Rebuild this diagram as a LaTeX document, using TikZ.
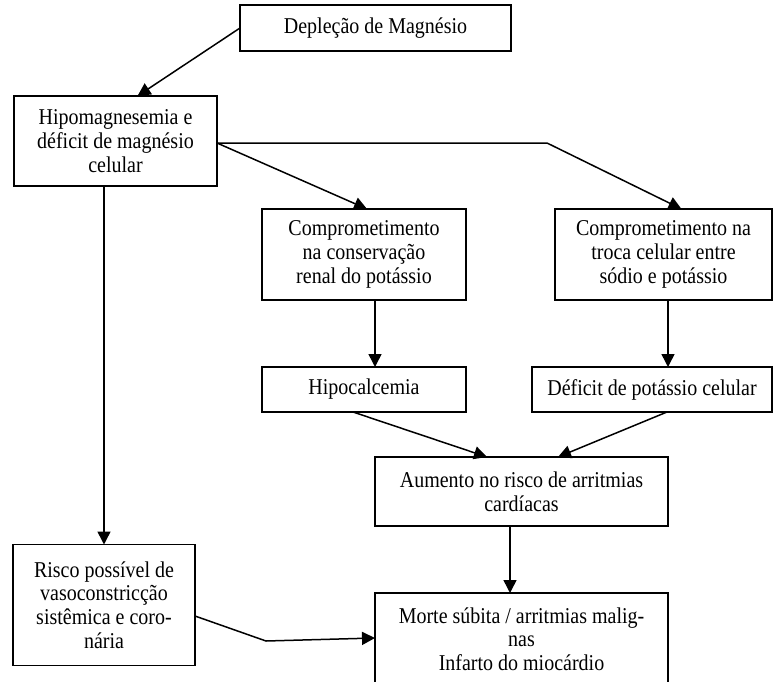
\documentclass[tikz,border=0pt]{standalone}
\usepackage{fontspec}
\setmainfont{Liberation Serif}[FakeStretch=0.885]
\usetikzlibrary{arrows.meta,calc}
\begin{document}
\begin{tikzpicture}[x=1pt,y=-1pt,
  txt/.style={inner sep=0pt, outer sep=0pt, align=center, font=\fontsize{22.6}{23.7}\selectfont},
  box/.style={txt, draw, rectangle, line width=1.8pt},
  conn/.style={line width=1.5pt, -{Triangle[length=13pt,width=13pt]}}]
\useasboundingbox (0,0) rectangle (773,682);
\fill[white] (0,0) rectangle (773,682);
\clip (0,0) rectangle (773,682);

% boxes
\node[box, minimum width=271pt, minimum height=46pt] (dep) at (375.5,28) {Depleção de Magnésio};
\node[box, minimum width=203pt, minimum height=90pt] (hipo) at (115.5,141) {Hipomagnesemia e\\déficit de magnésio\\celular};
\node[box, minimum width=204pt, minimum height=91pt] (compA) at (364,254.5) {Comprometimento\\na conservação\\renal do potássio};
\node[box, minimum width=217pt, minimum height=91pt] (compB) at (663.5,254.5) {Comprometimento na\\troca celular entre\\sódio e potássio};
\node[box, minimum width=204pt, minimum height=45pt] (hipoc) at (364,389.5) {Hipocalcemia};
\node[box, minimum width=240pt, minimum height=45pt] (defic) at (652,389.5) {Déficit de potássio celular};
\node[box, minimum width=293pt, minimum height=69pt] (aum) at (521.5,491.5) {Aumento no risco de arritmias\\cardíacas};
\node[box, minimum width=182pt, minimum height=121pt] (risco) at (104,605) {Risco possível de\\vasoconstricção\\sistêmica e coro-\\nária};
% last box runs past the lower edge
\node[box, anchor=north west, minimum width=293pt, minimum height=130pt] (morte) at (375,593) {};
\node[txt] (morteT) at (521.5,639) {Morte súbita / arritmias malig-\\nas\\Infarto do miocárdio};

% bend points and columns of the vertical arrows
\coordinate (bend1) at (547,143);
\coordinate (bend2) at (266,641);
\coordinate (ax) at (375,0);
\coordinate (bx) at (668,0);
\coordinate (cx) at (510,0);

% connectors
\draw[conn] (dep.west) -- ($(hipo.north)+(22,0)$);
\draw[conn] ($(hipo.east)+(0,2)$) -- (bend1) -- ($(compB.north)+(18,0)$);
\draw[conn] ($(hipo.east)+(0,2)$) -- ($(compA.north)+(3,0)$);
\draw[conn] (risco.north |- hipo.south) -- (risco.north);
\draw[conn] (compA.south -| ax) -- (hipoc.north -| ax);
\draw[conn] (compB.south -| bx) -- (defic.north -| bx);
\draw[conn] ($(hipoc.south)+(-11,0)$) -- ($(aum.north)+(-34.5,0)$);
\draw[conn] ($(defic.south)+(15,0)$) -- ($(aum.north)+(36.5,0)$);
\draw[conn] (aum.south -| cx) -- (morte.north -| cx);
\draw[conn] ($(risco.east)+(0,11)$) -- (bend2) -- ($(morte.north west)+(0,45)$);
\end{tikzpicture}
\end{document}
